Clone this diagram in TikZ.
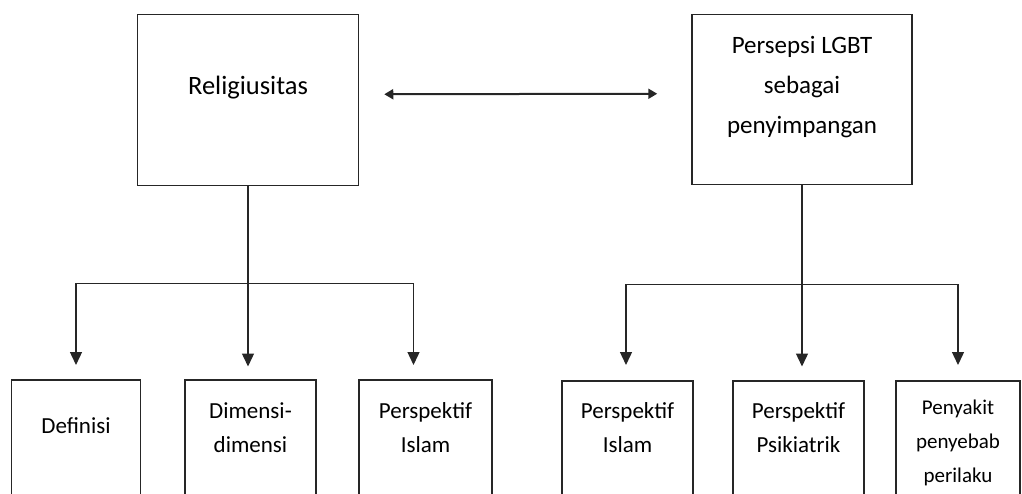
\documentclass[tikz,border=0pt]{standalone}
\usepackage{fontspec}
\setmainfont{Carlito}
\usetikzlibrary{arrows.meta,positioning}

\begin{document}
\begin{tikzpicture}[x=1pt, y=-1pt, every node/.style={align=center}]
\tikzset{
  kotak/.style={draw=black!85, line width=1.5pt, anchor=north, inner sep=0pt},
  atas/.style={kotak, minimum width=221pt},
  bawah/.style={kotak, font=\fontsize{23}{34}\selectfont},
  garis/.style={draw=black!85, line width=1.4pt},
  panah/.style={garis, -{Triangle[length=13pt,width=12pt]}},
  dua/.style={draw=black!85, line width=2pt, {Triangle[length=9pt,width=10pt]}-{Triangle[length=9pt,width=10pt]}}
}
\useasboundingbox (0,0) rectangle (1022,494);
\clip (0,0) rectangle (1022,494);
% kotak atas
\node[atas, font=\fontsize{26.5}{32}\selectfont, text height=80pt, text depth=91pt] (rel) at (248,14) {Religiusitas};
\node[atas, font=\fontsize{25}{40}\selectfont, minimum width=220pt, text height=119pt, text depth=51pt] (lgbt) at (802,14) {Persepsi LGBT\\sebagai\\penyimpangan};
% kotak bawah
\node[bawah, minimum width=129pt, text height=54pt, text depth=140pt] (def) at (76,379) {Definisi};
\node[bawah, minimum width=131pt, text height=73pt, text depth=150pt] (dim) at (250.5,379) {Dimensi-\\dimensi};
\node[bawah, minimum width=133pt, text height=73pt, text depth=150pt] (isl) at (425.5,379) {Perspektif\\Islam};
\node[bawah, minimum width=131pt, text height=72pt, text depth=150pt] (isl2) at (627.5,380) {Perspektif\\Islam};
\node[bawah, minimum width=131pt, text height=72pt, text depth=150pt] (psi) at (798.5,380) {Perspektif\\Psikiatrik};
\node[bawah, minimum width=124pt, font=\fontsize{21}{34}\selectfont, text height=102pt, text depth=150pt] (sak) at (958,380) {Penyakit\\penyebab\\perilaku};
% hubungan
\draw[dua] ([xshift=25pt,yshift=6pt]rel.east) -- ([xshift=-34pt,yshift=6pt]lgbt.west);
\draw[garis] (rel.south) -- ++(0,97) coordinate (kiri);
\draw[panah] (kiri) -| ([yshift=14pt]def.north);
\draw[panah] (kiri) -- ++(0,83);
\draw[panah] (kiri) -| ([xshift=-12pt,yshift=14pt]isl.north);
\draw[garis] (lgbt.south) -- ++(0,99) coordinate (kanan);
\draw[panah] (kanan) -| ([xshift=-1.5pt,yshift=15pt]isl2.north);
\draw[panah] (kanan) -- ++(0,82);
\draw[panah] (kanan) -| ([yshift=15pt]sak.north);
\end{tikzpicture}
\end{document}
